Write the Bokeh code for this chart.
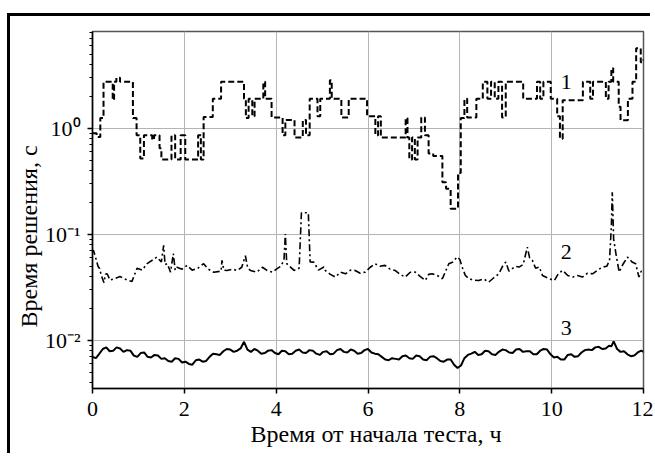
from bokeh.plotting import figure
from bokeh.layouts import column
from bokeh.models import FixedTicker, CustomJSTickFormatter, Range1d, Label, Title
from bokeh.embed import file_html
from bokeh.resources import INLINE

# ---- data ----
x_ticks = [0, 2, 4, 6, 8, 10, 12]
y_major = [0.01, 0.1, 1.0]
y_minor = [0.004, 0.005, 0.006, 0.007, 0.008, 0.009,
           0.02, 0.03, 0.04, 0.05, 0.06, 0.07, 0.08, 0.09,
           0.2, 0.3, 0.4, 0.5, 0.6, 0.7, 0.8, 0.9,
           2, 3, 4, 5, 6, 7, 8]

x1 = [0.0, 0.09, 0.17, 0.24, 0.44, 0.47, 0.52, 0.60, 0.64, 0.88, 0.96, 1.04, 1.12, 1.30, 1.34,
      1.46, 1.50, 1.72, 1.80, 1.92, 2.02, 2.30, 2.36, 2.42, 2.62, 2.80, 3.30, 3.34, 3.40, 3.48,
      3.53, 3.72, 3.76, 3.90, 4.14, 4.20, 4.40, 4.58, 4.65, 4.73, 4.90, 4.96, 5.17, 5.21, 5.42,
      5.58, 5.98, 6.16, 6.22, 6.28, 6.82, 6.86, 6.90, 6.96, 7.02, 7.08, 7.16, 7.24, 7.32, 7.42,
      7.62, 7.70, 7.80, 7.96, 8.02, 8.10, 8.16, 8.36, 8.50, 8.60, 8.68, 8.76, 8.84, 8.92, 9.00,
      9.38, 9.68, 9.75, 9.82, 9.98, 10.12, 10.18, 10.24, 10.68, 10.84, 10.90, 11.18, 11.24, 11.30,
      11.34, 11.46, 11.50, 11.66, 11.76, 11.84, 11.94, 12.00]
y1 = [0.9, 0.83, 1.25, 2.75, 1.85, 2.75, 3.0, 2.75, 2.75, 1.25, 0.86, 0.52, 0.86, 0.78, 0.86,
      0.65, 0.51, 0.86, 0.51, 0.86, 0.51, 0.86, 0.51, 1.28, 1.9, 2.75, 1.9, 1.25, 1.9, 1.3,
      1.9, 2.75, 1.9, 1.27, 0.86, 1.2, 0.82, 1.2, 0.86, 1.9, 1.3, 1.9, 2.85, 1.9, 1.27,
      1.9, 1.3, 0.86, 1.3, 0.82, 1.25, 0.82, 0.51, 0.82, 0.51, 0.82, 1.27, 0.86, 0.58, 0.55,
      0.31, 0.27, 0.175, 0.38, 1.25, 1.9, 1.27, 1.9, 2.75, 1.9, 2.75, 1.9, 2.75, 1.27, 2.75,
      1.9, 2.75, 1.9, 2.75, 1.9, 1.3, 0.8, 1.84, 2.75, 1.9, 2.75, 1.9, 2.75, 3.7,
      2.75, 1.6, 1.19, 1.9, 2.75, 5.7, 4.2, 4.5]

x2 = [0.00, 0.02, 0.07, 0.12, 0.15, 0.20, 0.25, 0.28, 0.32, 0.38, 0.46, 0.60, 0.76, 0.86, 0.97,
      1.08, 1.19, 1.30, 1.40, 1.50, 1.55, 1.58, 1.63, 1.70, 1.76, 1.80, 1.84, 1.95, 2.06, 2.17,
      2.28, 2.42, 2.52, 2.64, 2.80, 2.82, 2.86, 2.93, 3.05, 3.15, 3.25, 3.33, 3.38, 3.44, 3.58,
      3.70, 3.80, 3.92, 4.02, 4.10, 4.17, 4.20, 4.23, 4.39, 4.50, 4.55, 4.70, 4.74, 4.82, 4.92,
      5.04, 5.07, 5.18, 5.29, 5.40, 5.51, 5.62, 5.72, 5.83, 5.94, 6.05, 6.15, 6.26, 6.37, 6.48,
      6.59, 6.70, 6.81, 6.92, 7.03, 7.14, 7.25, 7.32, 7.40, 7.51, 7.62, 7.70, 7.76, 7.85, 7.94,
      8.00, 8.05, 8.12, 8.20, 8.30, 8.41, 8.52, 8.63, 8.74, 8.85, 8.93, 9.00, 9.07, 9.14, 9.22,
      9.29, 9.38, 9.47, 9.52, 9.58, 9.65, 9.73, 9.80, 9.87, 9.96, 10.06, 10.15, 10.24, 10.35,
      10.46, 10.56, 10.67, 10.78, 10.89, 11.00, 11.11, 11.20, 11.26, 11.30, 11.32, 11.35, 11.40,
      11.47, 11.55, 11.65, 11.75, 11.83, 11.90, 11.95, 12.00]
y2 = [0.068, 0.071, 0.060, 0.050, 0.048, 0.040, 0.035, 0.042, 0.0425, 0.037, 0.038, 0.040, 0.037,
      0.036, 0.048, 0.046, 0.053, 0.057, 0.061, 0.055, 0.079, 0.052, 0.053, 0.044, 0.066, 0.046,
      0.049, 0.047, 0.051, 0.046, 0.0475, 0.053, 0.047, 0.044, 0.045, 0.057, 0.046, 0.0457, 0.047,
      0.0457, 0.049, 0.063, 0.048, 0.0457, 0.0441, 0.049, 0.0457, 0.044, 0.0475, 0.050, 0.057,
      0.101, 0.053, 0.0457, 0.048, 0.16, 0.16, 0.055, 0.0548, 0.046, 0.0492, 0.0457, 0.042,
      0.0396, 0.044, 0.0425, 0.046, 0.0457, 0.043, 0.0441, 0.049, 0.0529, 0.050, 0.051, 0.047,
      0.0457, 0.042, 0.0396, 0.044, 0.0441, 0.040, 0.0368, 0.042, 0.0425, 0.041, 0.0382, 0.046,
      0.0529, 0.055, 0.0611, 0.058, 0.0492, 0.041, 0.0382, 0.037, 0.0368, 0.038, 0.0355, 0.039,
      0.0425, 0.050, 0.0548, 0.045, 0.0475, 0.050, 0.0492, 0.052, 0.0759, 0.060, 0.0569, 0.048,
      0.0492, 0.041, 0.0396, 0.038, 0.0368, 0.043, 0.0457, 0.041, 0.0396, 0.041, 0.0396, 0.043,
      0.0425, 0.046, 0.0492, 0.050, 0.0569, 0.12, 0.25, 0.09, 0.0657, 0.0441, 0.052, 0.0611,
      0.055, 0.0529, 0.0396, 0.045, 0.0441]

x3 = [0.00, 0.15, 0.30, 0.45, 0.60, 0.75, 0.90, 1.05, 1.20, 1.35, 1.50, 1.65, 1.80, 1.95, 2.10,
      2.25, 2.40, 2.55, 2.70, 2.85, 3.00, 3.15, 3.30, 3.45, 3.60, 3.75, 3.90, 4.05, 4.20, 4.35,
      4.50, 4.65, 4.80, 4.95, 5.10, 5.25, 5.40, 5.55, 5.70, 5.85, 6.00, 6.15, 6.30, 6.45, 6.60,
      6.75, 6.90, 7.05, 7.20, 7.35, 7.50, 7.65, 7.80, 7.95, 8.10, 8.25, 8.40, 8.55, 8.70, 8.85,
      9.00, 9.15, 9.30, 9.45, 9.60, 9.75, 9.90, 10.05, 10.20, 10.35, 10.50, 10.65, 10.80, 10.95,
      11.10, 11.25, 11.35, 11.50, 11.65, 11.80, 11.95, 12.00]
y3 = [0.0070, 0.0075, 0.0086, 0.0080, 0.0084, 0.0081, 0.0072, 0.0076, 0.0070, 0.0073, 0.0067,
      0.0064, 0.0068, 0.0062, 0.0060, 0.0065, 0.0063, 0.0070, 0.0074, 0.0079, 0.0082, 0.0080,
      0.0097, 0.0078, 0.0080, 0.0076, 0.0081, 0.0074, 0.0079, 0.0075, 0.0082, 0.0076, 0.0080,
      0.0073, 0.0079, 0.0075, 0.0083, 0.0077, 0.0080, 0.0076, 0.0083, 0.0075, 0.0070, 0.0065,
      0.0067, 0.0071, 0.0068, 0.0072, 0.0066, 0.0070, 0.0068, 0.0063, 0.0066, 0.0055, 0.0068,
      0.0075, 0.0073, 0.0080, 0.0074, 0.0078, 0.0081, 0.0076, 0.0083, 0.0079, 0.0074, 0.0080,
      0.0082, 0.0069, 0.0066, 0.0073, 0.0070, 0.0077, 0.0082, 0.0086, 0.0083, 0.0089, 0.0098,
      0.0078, 0.0074, 0.0072, 0.0080, 0.0078]
# in-between readings of the jittery series 3
x3b = [0.075, 0.225, 0.375, 0.525, 0.675, 0.825, 0.975, 1.125, 1.275, 1.425, 1.575, 1.725, 1.875,
       2.025, 2.175, 2.325, 2.475, 2.625, 2.775, 2.925, 3.075, 3.225, 3.375, 3.525, 3.675, 3.825,
       3.975, 4.125, 4.275, 4.425, 4.575, 4.725, 4.875, 5.025, 5.175, 5.325, 5.475, 5.625, 5.775,
       5.925, 6.075, 6.225, 6.375, 6.525, 6.675, 6.825, 6.975, 7.125, 7.275, 7.425, 7.575, 7.725,
       7.875, 8.025, 8.175, 8.325, 8.475, 8.625, 8.775, 8.925, 9.075, 9.225, 9.375, 9.525, 9.675,
       9.825, 9.975, 10.125, 10.275, 10.425, 10.575, 10.725, 10.875, 11.025, 11.175, 11.30, 11.425,
       11.575, 11.725, 11.875]
y3b = [0.0068, 0.0083, 0.0079, 0.0086, 0.0078, 0.0080, 0.0070, 0.0077, 0.0069, 0.0072, 0.0068,
       0.0063, 0.0067, 0.0063, 0.0059, 0.0066, 0.0064, 0.0075, 0.0073, 0.0083, 0.0078, 0.0084,
       0.0082, 0.0083, 0.0075, 0.0080, 0.0076, 0.0080, 0.0074, 0.0080, 0.0077, 0.0081, 0.0075,
       0.0078, 0.0074, 0.0081, 0.0078, 0.0082, 0.0075, 0.0081, 0.0077, 0.0074, 0.0066, 0.0068,
       0.0066, 0.0072, 0.0067, 0.0071, 0.0065, 0.0071, 0.0064, 0.0066, 0.0059, 0.0058, 0.0073,
       0.0078, 0.0074, 0.0079, 0.0073, 0.0082, 0.0077, 0.0082, 0.0078, 0.0079, 0.0074, 0.0083,
       0.0074, 0.0070, 0.0066, 0.0074, 0.0071, 0.0081, 0.0081, 0.0087, 0.0084, 0.0088, 0.0083,
       0.0079, 0.0071, 0.0077]

series_names = ["1", "2", "3"]
x_title = "Время от начала теста, ч"
y_title = "Время решения, с"

FONT = "Liberation Serif"

pts3 = sorted(zip(x3 + x3b, y3 + y3b))
x3all = [a for a, _ in pts3]
y3all = [b for _, b in pts3]

p = figure(width=643, height=440, y_axis_type="log",
           x_range=Range1d(0, 12), y_range=Range1d(0.00352, 8.2),
           output_backend="svg", toolbar_location=None,
           min_border_left=82, min_border_right=10, min_border_top=15, min_border_bottom=68)

p.background_fill_color = "white"
p.border_fill_color = "white"
p.outline_line_color = "#555555"
p.outline_line_width = 1.5

p.xaxis.ticker = FixedTicker(ticks=x_ticks)
p.yaxis.ticker = FixedTicker(ticks=y_major, minor_ticks=y_minor)
p.yaxis.formatter = CustomJSTickFormatter(code="""
const e = Math.round(Math.log10(tick));
const sup = {'-':'\u207b','0':'\u2070','1':'\u00b9','2':'\u00b2','3':'\u00b3','4':'\u2074',
             '5':'\u2075','6':'\u2076','7':'\u2077','8':'\u2078','9':'\u2079'};
return '10' + String(e).split('').map(c => sup[c]).join('');
""")

for ax in (p.xaxis, p.yaxis):
    ax.axis_line_color = "black"
    ax.axis_line_width = 1.5
    ax.major_tick_line_color = "black"
    ax.major_tick_line_width = 1.5
    ax.major_tick_out = 5
    ax.major_tick_in = 0
    ax.minor_tick_line_color = "black"
    ax.minor_tick_out = 3
    ax.minor_tick_in = 0
    ax.major_label_text_font = FONT
    ax.major_label_text_font_size = "22px"
    ax.major_label_text_color = "black"
p.xaxis.minor_tick_line_color = None
p.xaxis.major_label_standoff = 8
p.yaxis.major_label_standoff = 7

p.xgrid.grid_line_color = "#b4b4b4"
p.ygrid.grid_line_color = "#b4b4b4"
p.xgrid.grid_line_width = 1
p.ygrid.grid_line_width = 1

p.step(x1, y1, mode="after", line_color="black", line_width=2, line_dash="6 3")
p.line(x2, y2, line_color="black", line_width=1.6, line_dash="7 3 2 3")
p.line(x3all, y3all, line_color="black", line_width=2)

label_pos = [(10.32, 2.72), (10.32, 0.0676), (10.32, 0.0132)]
for name, (lx, ly) in zip(series_names, label_pos):
    p.add_layout(Label(x=lx, y=ly, text=name, text_font=FONT, text_font_size="22px",
                       text_align="center", text_baseline="middle", text_color="black",
                       background_fill_color="white" if name == "3" else None))

# axis titles as side titles (offset along the frame edge)
p.add_layout(Title(text=x_title, text_font=FONT, text_font_size="24px",
                   text_font_style="normal", text_color="black",
                   align="left", offset=158, standoff=0), "below")
p.add_layout(Title(text=y_title, text_font=FONT, text_font_size="24px",
                   text_font_style="normal", text_color="black",
                   align="left", offset=61, standoff=0), "left")

page = column(p, styles={"margin-left": "10px", "margin-top": "16px",
                         "box-shadow": "-3px -3px 0px 0px black"})

open("out.html", "w").write(file_html(page, INLINE))
